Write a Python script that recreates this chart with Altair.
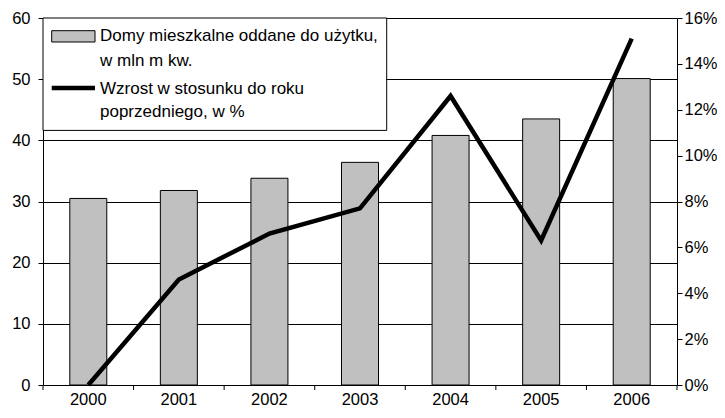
import altair as alt
import pandas as pd

years = ["2000", "2001", "2002", "2003", "2004", "2005", "2006"]
area = [30.5, 31.8, 33.8, 36.4, 40.8, 43.5, 50.1]
growth = [0.0, 4.6, 6.6, 7.7, 12.6, 6.3, 15.1]
left_ticks = [0, 10, 20, 30, 40, 50, 60]
right_ticks = [0, 2, 4, 6, 8, 10, 12, 14, 16]
legend_bar = ["Domy mieszkalne oddane do użytku,", "w mln m kw."]
legend_line = ["Wzrost w stosunku do roku", "poprzedniego, w %"]

df = pd.DataFrame({"year": years, "area": area, "growth": growth})
one = pd.DataFrame({"k": [0]})

FONT = "Liberation Sans"
FS = 16.5
LFS = 17
W, H = 634, 367

xscale = alt.Scale(paddingInner=0, paddingOuter=0)
xenc = alt.X(
    "year:N", scale=xscale, sort=years,
    axis=alt.Axis(title=None, ticks=False, tickSize=0, domain=False, labelAngle=0,
                  labelPadding=6.5, labelFont=FONT, labelFontSize=FS, labelColor="black"),
)

bars = alt.Chart(df).mark_bar(size=37, color="#C0C0C0", stroke="black", strokeWidth=1).encode(
    x=xenc,
    y=alt.Y("area:Q", scale=alt.Scale(domain=[0, 60], nice=False, zero=True),
            axis=alt.Axis(title=None, orient="left", values=left_ticks, grid=True,
                          gridColor="black", gridWidth=1, gridOpacity=1,
                          domain=True, domainColor="black", tickColor="black", tickSize=5,
                          labelPadding=8, labelFont=FONT, labelFontSize=FS, labelColor="black")),
)

line = alt.Chart(df).mark_line(color="black", strokeWidth=4.5, strokeJoin="miter").encode(
    x=alt.X("year:N", scale=xscale, sort=years),
    y=alt.Y("growth:Q", scale=alt.Scale(domain=[0, 16], nice=False, zero=True),
            axis=alt.Axis(title=None, orient="right", values=right_ticks, grid=False,
                          labelExpr="datum.value + '%'",
                          domain=True, domainColor="black", tickColor="black", tickSize=5,
                          labelPadding=2, labelFont=FONT, labelFontSize=FS, labelColor="black")),
)

xticks = alt.Chart(df).mark_rule(color="black", strokeWidth=1).encode(
    x=alt.X("year:N", scale=xscale, sort=years, bandPosition=0),
    y=alt.value(H), y2=alt.value(H + 5),
)
xtick_end = alt.Chart(one).mark_rule(color="black", strokeWidth=1).encode(
    x=alt.value(W), y=alt.value(H), y2=alt.value(H + 5),
)

legend_box = alt.Chart(one).mark_rect(fill="white", stroke="black", strokeWidth=1).encode(
    x=alt.value(0), x2=alt.value(343.7), y=alt.value(0), y2=alt.value(112.4),
)
legend_sym_bar = alt.Chart(one).mark_rect(fill="#C0C0C0", stroke="black", strokeWidth=1).encode(
    x=alt.value(8.7), x2=alt.value(52), y=alt.value(12.7), y2=alt.value(24),
)
legend_sym_line = alt.Chart(one).mark_rule(color="black", strokeWidth=4.5).encode(
    x=alt.value(8.7), x2=alt.value(52), y=alt.value(70),
)
legend_txt1 = alt.Chart(one).mark_text(
    text=legend_bar, align="left", baseline="alphabetic", font=FONT, fontSize=LFS,
    lineHeight=24.3, color="black",
).encode(x=alt.value(57), y=alt.value(23.4))
legend_txt2 = alt.Chart(one).mark_text(
    text=legend_line, align="left", baseline="alphabetic", font=FONT, fontSize=LFS,
    lineHeight=23.5, color="black",
).encode(x=alt.value(57), y=alt.value(75.7))

chart = alt.layer(
    bars, line, xticks, xtick_end,
    legend_box, legend_sym_bar, legend_sym_line, legend_txt1, legend_txt2,
).resolve_scale(y="independent").properties(
    width=W, height=H,
    autosize=alt.AutoSizeParams(type="none"),
    padding={"left": 35, "top": 10, "right": 40, "bottom": 25},
).configure_view(stroke="black", strokeWidth=1).configure(background="white")

chart.save("out.html", embed_options={"renderer": "svg", "actions": False})
